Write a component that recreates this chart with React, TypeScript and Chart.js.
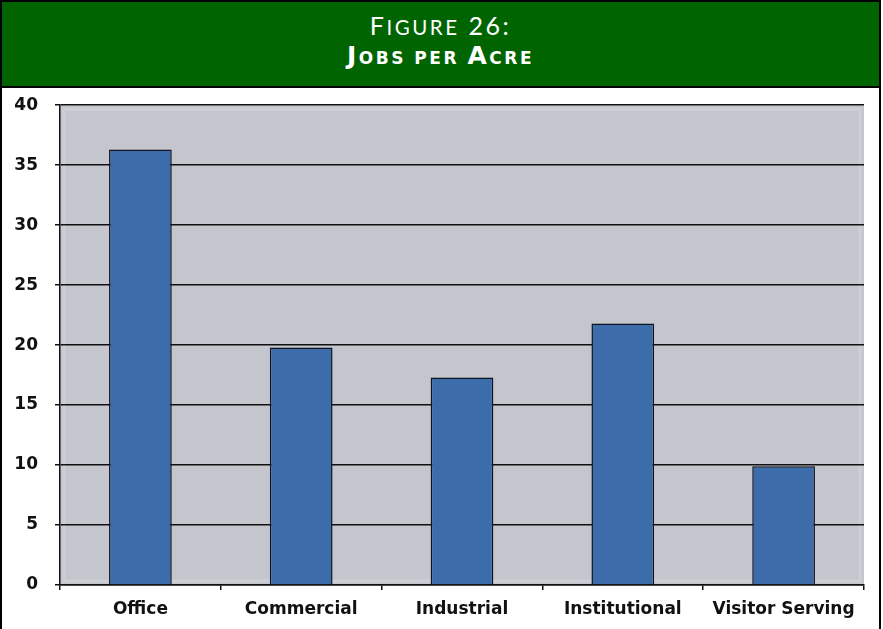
import React, { useEffect, useRef } from "react";
import { Chart, registerables } from "chart.js";

Chart.register(...registerables);

const categories = ["Office", "Commercial", "Industrial", "Institutional", "Visitor Serving"];
const jobsPerAcre = [36.3, 19.8, 17.3, 21.8, 9.9];
const yTicks = [0, 5, 10, 15, 20, 25, 30, 35, 40];

const plotBg = {
  id: "plotBg",
  beforeDraw(chart: any) {
    const { ctx, chartArea } = chart;
    if (!chartArea) return;
    const { left, top, right, bottom } = chartArea;
    ctx.save();
    ctx.fillStyle = "#c5c5cd";
    ctx.fillRect(left, top, right - left, bottom - top);
    ctx.strokeStyle = "#ceced5";
    ctx.lineWidth = 3;
    ctx.strokeRect(left + 4, top + 4, right - left - 8, bottom - top - 8);
    ctx.restore();
  },
};

export default function App() {
  const ref = useRef<HTMLCanvasElement | null>(null);

  useEffect(() => {
    document.body.style.margin = "0";
    const canvas = ref.current;
    if (!canvas) return;
    const chart = new Chart(canvas, {
      type: "bar",
      data: {
        labels: categories,
        datasets: [
          {
            data: jobsPerAcre,
            backgroundColor: "#3d6cab",
            borderColor: "#0d1420",
            borderWidth: 1.5,
            categoryPercentage: 1,
            barPercentage: 0.39,
          },
        ],
      },
      options: {
        responsive: false,
        animation: false,
        maintainAspectRatio: false,
        layout: { padding: { left: 0, right: 16, top: 6, bottom: 0 } },
        plugins: {
          legend: { display: false },
          title: { display: false },
          tooltip: { enabled: false },
        },
        scales: {
          x: {
            offset: true,
            grid: {
              offset: true,
              drawOnChartArea: false,
              drawTicks: true,
              tickLength: 5,
              color: "#111",
              lineWidth: 1.5,
            },
            border: { color: "#111", width: 1.5 },
            ticks: {
              color: "#111",
              padding: 9,
              font: { family: "'DejaVu Sans', Verdana, sans-serif", size: 17, weight: "bold" },
            },
            afterFit(scale: any) {
              scale.height = 44;
            },
          },
          y: {
            min: 0,
            max: 40,
            afterBuildTicks(scale: any) {
              scale.ticks = yTicks.map((v) => ({ value: v }));
            },
            grid: {
              color: "#111",
              lineWidth: 1.5,
              drawTicks: true,
              tickLength: 5,
            },
            border: { color: "#111", width: 1.5 },
            ticks: {
              color: "#111",
              padding: 17,
              font: { family: "'DejaVu Sans', Verdana, sans-serif", size: 17, weight: "bold" },
            },
            afterFit(scale: any) {
              scale.width = 58;
            },
          },
        },
      },
      plugins: [plotBg],
    });
    return () => chart.destroy();
  }, []);

  const big1 = { fontSize: 25 };
  const small1 = { fontSize: 20.5 };
  const big2 = { fontSize: 25 };
  const small2 = { fontSize: 17 };

  return (
    <div style={{ position: "relative", width: 883, height: 629, background: "#fff", overflow: "hidden" }}>
      <div
        style={{
          position: "absolute",
          left: 0,
          top: 0,
          width: 877,
          height: 640,
          border: "2px solid #000",
        }}
      />
      <canvas
        ref={ref}
        width={878}
        height={551}
        style={{ position: "absolute", left: 2, top: 78, width: 878, height: 551, zIndex: 1 }}
      />
      <div
        style={{
          position: "absolute",
          left: 2,
          top: 2,
          width: 877,
          height: 84,
          background: "#006400",
          borderBottom: "2px solid #000",
          color: "#fff",
          textAlign: "center",
          zIndex: 2,
        }}
      >
        <div
          style={{
            position: "absolute",
            left: 0,
            right: 0,
            top: 8,
            lineHeight: "30px",
            fontWeight: 400,
            letterSpacing: 2.5,
            fontFamily: "Lato, 'Open Sans', 'DejaVu Sans', sans-serif",
          }}
        >
          <span style={big1}>F</span>
          <span style={small1}>IGURE</span>
          <span style={big1}> 26:</span>
        </div>
        <div
          style={{
            position: "absolute",
            left: 0,
            right: 0,
            top: 39,
            lineHeight: "30px",
            fontWeight: 700,
            letterSpacing: 2.5,
            fontFamily: "'DejaVu Sans', Verdana, sans-serif",
          }}
        >
          <span style={big2}>J</span>
          <span style={small2}>OBS PER </span>
          <span style={big2}>A</span>
          <span style={small2}>CRE</span>
        </div>
      </div>
    </div>
  );
}
